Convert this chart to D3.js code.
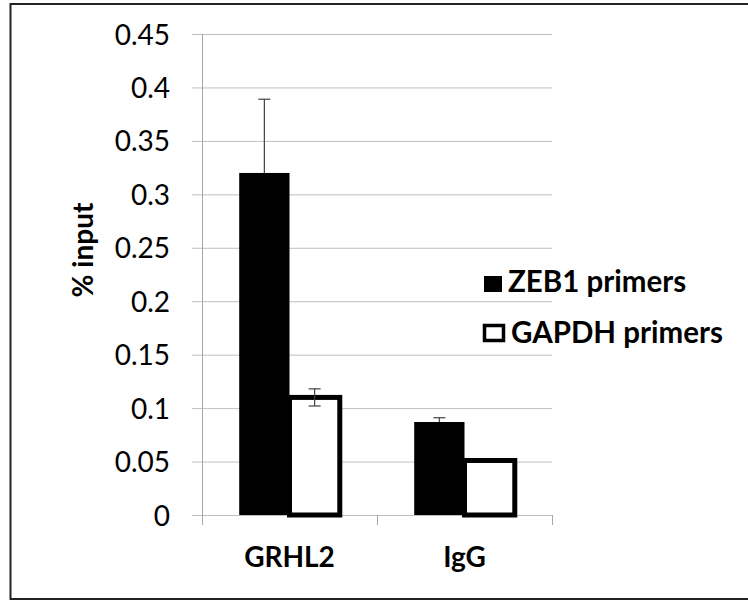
<!DOCTYPE html>
<html>
<head>
<meta charset="utf-8">
<script src="https://cdn.jsdelivr.net/npm/d3@7"></script>
<style>
  html, body { margin: 0; padding: 0; background: #fff; }
  svg { display: block; font-family: Lato, "Open Sans", sans-serif; }
</style>
</head>
<body>
<svg id="chart" width="748" height="601"></svg>
<script>
const categories = ["GRHL2", "IgG"];
const seriesNames = ["ZEB1 primers", "GAPDH primers"];
const zeb1Values = [0.32, 0.087];
const zeb1Errors = [0.069, 0.004];
const gapdhValues = [0.11, 0.051];
const gapdhErrors = [0.008, 0];
const yTicks = [0, 0.05, 0.1, 0.15, 0.2, 0.25, 0.3, 0.35, 0.4, 0.45];
const yTickLabels = ["0", "0.05", "0.1", "0.15", "0.2", "0.25", "0.3", "0.35", "0.4", "0.45"];
const yLabel = "% input";

const svg = d3.select("#chart");

// outer frame
svg.append("rect").attr("x", 10.5).attr("y", 4).attr("width", 760).attr("height", 595)
  .attr("fill", "none").attr("stroke", "#222").attr("stroke-width", 2);

const plot = { left: 202, right: 552, top: 34, bottom: 515 };

const y = d3.scaleLinear().domain([0, 0.45]).range([plot.bottom, plot.top]);
const x0 = d3.scaleBand().domain(categories).range([plot.left, plot.right]).padding(0);
const x1 = d3.scaleBand().domain(seriesNames).range([0, x0.bandwidth()]).paddingInner(0).paddingOuter(0.74);

// gridlines + y ticks
const yAxis = d3.axisLeft(y).tickValues(yTicks)
  .tickFormat((d, i) => yTickLabels[i])
  .tickSize(0).tickPadding(22);
const gy = svg.append("g").attr("transform", `translate(${plot.left - 10},0)`).call(yAxis);
gy.select(".domain").remove();
gy.selectAll(".tick line").attr("stroke", "#c0c0c0").attr("stroke-width", 1)
  .attr("x1", 0).attr("x2", plot.right - plot.left + 10);
gy.selectAll(".tick text").attr("font-size", 28).attr("fill", "#000")
  .attr("font-family", "Lato, sans-serif").attr("dy", "0.36em");

// y axis line
svg.append("line").attr("x1", plot.left + 0.5).attr("x2", plot.left + 0.5)
  .attr("y1", plot.top).attr("y2", plot.bottom + 10)
  .attr("stroke", "#a6a6a6").attr("stroke-width", 1);

// x axis
const xAxis = d3.axisBottom(x0).tickSize(0).tickPadding(32);
const gx = svg.append("g").attr("transform", `translate(0,${plot.bottom})`).call(xAxis);
gx.select(".domain").remove();
gx.selectAll(".tick text").attr("font-size", 28).attr("font-weight", "bold")
  .attr("fill", "#000").attr("font-family", "Lato, sans-serif");
const sepXs = [plot.left, x0("IgG"), plot.right];
svg.selectAll("line.sep").data(sepXs).enter().append("line").attr("class", "sep")
  .attr("x1", d => d + 0.5).attr("x2", d => d + 0.5)
  .attr("y1", plot.bottom).attr("y2", plot.bottom + 10)
  .attr("stroke", "#a6a6a6").attr("stroke-width", 1);

const rows = categories.map((c, i) => ({
  cat: c,
  vals: [
    { s: seriesNames[0], v: zeb1Values[i], e: zeb1Errors[i] },
    { s: seriesNames[1], v: gapdhValues[i], e: gapdhErrors[i] }
  ]
}));

const groups = svg.selectAll("g.grp").data(rows).enter().append("g").attr("class", "grp")
  .attr("transform", d => `translate(${x0(d.cat)},0)`);

function errorBar(sel) {
  const d0 = sel.datum();
  if (!d0.e) return;
  const cx = d => x1(d.s) + x1.bandwidth() / 2;
  const g = sel.append("g").attr("stroke", "#404040").attr("stroke-width", 1.2);
  g.append("line").attr("x1", cx).attr("x2", cx)
    .attr("y1", d => y(d.v - d.e)).attr("y2", d => y(d.v + d.e));
  g.append("line").attr("x1", d => cx(d) - 6).attr("x2", d => cx(d) + 6)
    .attr("y1", d => y(d.v + d.e)).attr("y2", d => y(d.v + d.e));
  g.append("line").attr("x1", d => cx(d) - 6).attr("x2", d => cx(d) + 6)
    .attr("y1", d => y(d.v - d.e)).attr("y2", d => y(d.v - d.e));
}

function bar(sel, filled) {
  sel.append("rect")
    .attr("x", d => x1(d.s))
    .attr("y", d => y(d.v))
    .attr("width", x1.bandwidth())
    .attr("height", d => y(0) - y(d.v))
    .attr("fill", filled ? "#000" : "#fff")
    .attr("stroke", filled ? "none" : "#000")
    .attr("stroke-width", 5);
}

groups.each(function(d) {
  const g = d3.select(this);
  const z = g.append("g").datum(d.vals[0]);
  errorBar(z);
  bar(z, true);
  const gp = g.append("g").datum(d.vals[1]);
  bar(gp, false);
  errorBar(gp);
});

// y label
svg.append("text").attr("transform", "translate(93,250) rotate(-90)")
  .attr("text-anchor", "middle").attr("font-size", 28).attr("font-weight", "bold")
  .attr("font-family", "Lato, sans-serif").attr("fill", "#000").text(yLabel);

// legend
const legend = svg.append("g");
legend.append("rect").attr("x", 484).attr("y", 276).attr("width", 18).attr("height", 16).attr("fill", "#000");
legend.append("rect").attr("x", 484.5).attr("y", 325.5).attr("width", 19).attr("height", 15)
  .attr("fill", "#fff").attr("stroke", "#000").attr("stroke-width", 3.5);
legend.selectAll("text").data(seriesNames).enter().append("text")
  .attr("x", (d, i) => i === 0 ? 508 : 511)
  .attr("y", (d, i) => i === 0 ? 292 : 343)
  .attr("font-size", 29.5).attr("font-weight", "bold")
  .attr("font-family", "Lato, sans-serif").attr("fill", "#000").text(d => d);
</script>
</body>
</html>
